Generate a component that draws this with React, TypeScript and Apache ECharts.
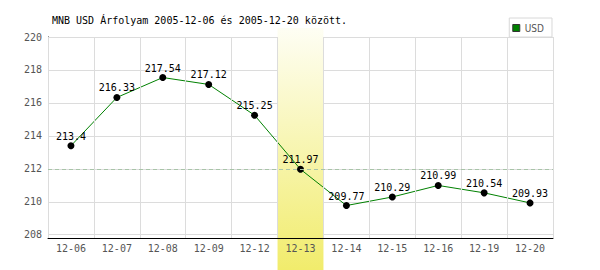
import React, { useEffect, useRef } from "react";
import * as echarts from "echarts";

const categories = ["12-06", "12-07", "12-08", "12-09", "12-12", "12-13", "12-14", "12-15", "12-16", "12-19", "12-20"];
const usdRates = [213.4, 216.33, 217.54, 217.12, 215.25, 211.97, 209.77, 210.29, 210.99, 210.54, 209.93];
const yTicks = [208, 210, 212, 214, 216, 218, 220];
const yMin = 207.8;
const yMax = 220;
const highlightCategory = "12-13";
const referenceRate = 212;
const seriesName = "USD";
const titleText = "MNB USD Árfolyam 2005-12-06 és 2005-12-20 között.";

const MONO = "'DejaVu Sans Mono', monospace";

export default function App() {
  const ref = useRef<HTMLDivElement>(null);

  useEffect(() => {
    const chart = echarts.init(ref.current!, null, { renderer: "svg" });
    chart.setOption({
      animation: false,
      backgroundColor: "#ffffff",
      title: {
        text: titleText,
        left: 52,
        top: 15,
        padding: 0,
        textStyle: { fontFamily: MONO, fontSize: 10, fontWeight: "normal", color: "#000" },
      },
      legend: {
        right: 48,
        top: 18,
        padding: [5, 8, 4, 3],
        borderColor: "#d8d8d8",
        borderWidth: 1,
        backgroundColor: "#fff",
        itemWidth: 7,
        itemHeight: 7,
        icon: "rect",
        data: [
          {
            name: seriesName,
            itemStyle: { color: "#008000", borderColor: "#333", borderWidth: 1 },
          },
        ],
        textStyle: { fontFamily: "'DejaVu Sans Condensed', 'DejaVu Sans', sans-serif", fontSize: 10, color: "#555" },
      },
      grid: { left: 48, right: 47, top: 37, bottom: 32, containLabel: false },
      xAxis: {
        type: "category",
        data: categories,
        boundaryGap: true,
        z: 3,
        axisLine: { show: true, lineStyle: { color: "#000", width: 1 } },
        axisTick: { show: false },
        axisLabel: { color: "#555", fontFamily: MONO, fontSize: 10, margin: 5 },
        splitLine: { show: true, lineStyle: { color: "#dcdcdc", width: 1 } },
      },
      yAxis: {
        type: "value",
        min: yMin,
        max: yMax,
        axisLine: { show: true, lineStyle: { color: "#000", width: 1 } },
        axisTick: { show: false, customValues: yTicks },
        axisLabel: { color: "#555", fontFamily: MONO, fontSize: 10, margin: 6, customValues: yTicks },
        splitLine: { show: true, lineStyle: { color: "#dcdcdc", width: 1 } },
      },
      series: [
        {
          name: seriesName,
          type: "line",
          data: usdRates,
          z: 2,
          symbol: "circle",
          symbolSize: 7,
          itemStyle: { color: "#000" },
          lineStyle: { color: "#008000", width: 1 },
          label: {
            show: true,
            position: "top",
            distance: 1,
            color: "#000",
            fontFamily: MONO,
            fontSize: 10,
          },
          markLine: {
            silent: true,
            symbol: ["none", "none"],
            label: { show: false },
            lineStyle: { color: "#a8c4a8", type: [4, 3], width: 1 },
            data: [{ yAxis: referenceRate }],
          },
        },
      ],
    });

    const idx = categories.indexOf(highlightCategory);
    const cx = chart.convertToPixel({ xAxisIndex: 0 }, categories[idx]) as unknown as number;
    const c0 = chart.convertToPixel({ xAxisIndex: 0 }, categories[0]) as unknown as number;
    const c1 = chart.convertToPixel({ xAxisIndex: 0 }, categories[1]) as unknown as number;
    const step = c1 - c0;
    chart.setOption({
      graphic: [
        {
          type: "rect",
          z: 1,
          silent: true,
          shape: { x: cx - step / 2, y: 28, width: step, height: 242 },
          style: {
            fill: new echarts.graphic.LinearGradient(0, 0, 0, 1, [
              { offset: 0, color: "#fefef4" },
              { offset: 1, color: "#f1ec6c" },
            ]),
          },
        },
      ],
    });

    return () => chart.dispose();
  }, []);

  return <div ref={ref} style={{ position: "fixed", left: 0, top: 0, width: 600, height: 270 }} />;
}
